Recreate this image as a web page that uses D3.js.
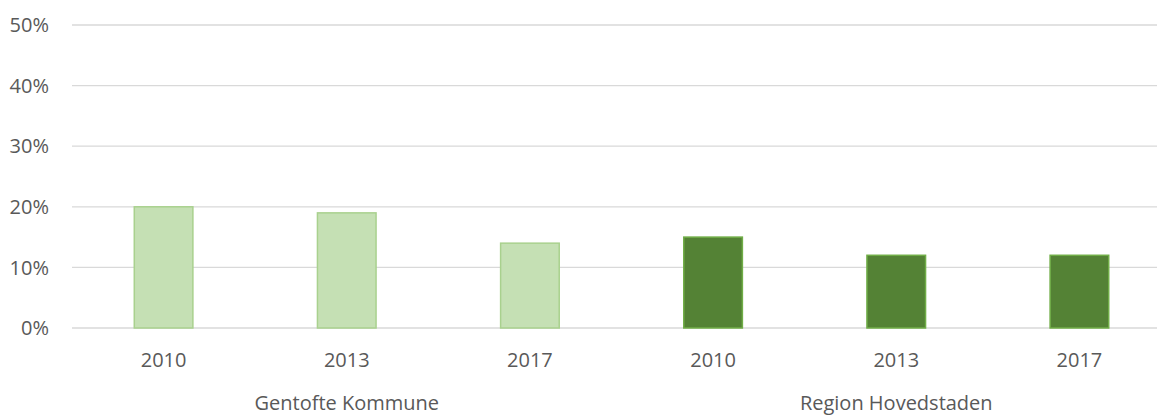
<!DOCTYPE html>
<html>
<head>
<meta charset="utf-8">
<script src="https://cdn.jsdelivr.net/npm/d3@7"></script>
<style>
  body { margin: 0; background: #fff; }
  text { font-family: "Open Sans", "Liberation Sans", sans-serif; fill: #595959; }
</style>
</head>
<body>
<svg class="chart" width="1157" height="416"></svg>
<script>
const groups = ["Gentofte Kommune", "Region Hovedstaden"];
const years = ["2010", "2013", "2017"];
const gentofte = [20, 19, 14];
const region = [15, 12, 12];
const yTicks = [0, 10, 20, 30, 40, 50];

const groupStyle = [
  { fill: "#c5e0b4", stroke: "#a9d18e" },
  { fill: "#548235", stroke: "#70ad47" }
];

const rows = [];
[gentofte, region].forEach((vals, g) => {
  vals.forEach((v, i) => {
    rows.push({ key: g + "-" + years[i], group: g, year: years[i], value: v });
  });
});

const svg = d3.select(".chart");
const plotLeft = 72;
const plotRight = 1171;
const plotTop = 25;
const plotBottom = 328;

const x = d3.scaleBand()
  .domain(rows.map((d) => d.key))
  .range([plotLeft, plotRight])
  .paddingInner(0.68)
  .paddingOuter(0.34);

const y = d3.scaleLinear().domain([0, 50]).range([plotBottom, plotTop]);

// gridlines
svg.append("g")
  .selectAll("line")
  .data(yTicks)
  .enter()
  .append("line")
  .attr("x1", plotLeft)
  .attr("x2", plotRight)
  .attr("y1", (d) => y(d))
  .attr("y2", (d) => y(d))
  .style("stroke", "#d9d9d9")
  .style("stroke-width", "1.3px");

// y labels
svg.append("g")
  .selectAll("text")
  .data(yTicks)
  .enter()
  .append("text")
  .attr("x", 49)
  .attr("y", (d) => y(d))
  .attr("dy", "0.36em")
  .attr("text-anchor", "end")
  .style("font-size", "20px")
  .text((d) => d + "%");

// bars
svg.append("g")
  .selectAll("rect")
  .data(rows)
  .enter()
  .append("rect")
  .attr("x", (d) => x(d.key))
  .attr("width", x.bandwidth())
  .attr("y", (d) => y(d.value))
  .attr("height", (d) => y(0) - y(d.value))
  .attr("fill", (d) => groupStyle[d.group].fill)
  .attr("stroke", (d) => groupStyle[d.group].stroke)
  .attr("stroke-width", 1.5);

// year labels
svg.append("g")
  .selectAll("text")
  .data(rows)
  .enter()
  .append("text")
  .attr("x", (d) => x(d.key) + x.bandwidth() / 2)
  .attr("y", 367)
  .attr("text-anchor", "middle")
  .style("font-size", "20px")
  .text((d) => d.year);

// group labels, centred under the middle year
svg.append("g")
  .selectAll("text")
  .data(groups)
  .enter()
  .append("text")
  .attr("x", (d, g) => x(g + "-" + years[1]) + x.bandwidth() / 2)
  .attr("y", 410)
  .attr("text-anchor", "middle")
  .style("font-size", "20px")
  .text((d) => d);
</script>
</body>
</html>
